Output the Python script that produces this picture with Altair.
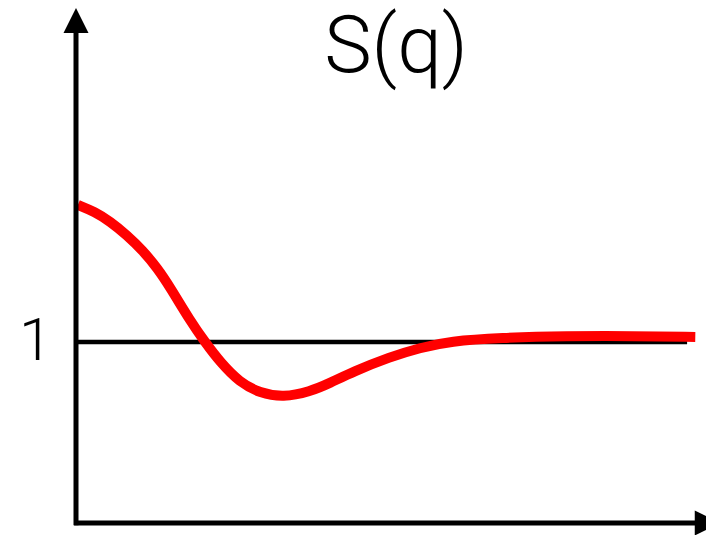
import altair as alt
import pandas as pd

# Structure factor S(q): sampled points along the curve
q_vals = [0.03, 0.30, 0.54, 0.81, 1.06, 1.29, 1.49, 1.81, 2.05, 2.29, 2.60, 2.92, 3.29,
          3.71, 4.03, 4.40, 4.98, 5.46, 5.94, 6.73, 7.79, 8.84, 9.83]
s_vals = [1.757, 1.719, 1.666, 1.590, 1.505, 1.408, 1.304, 1.118, 0.998, 0.888, 0.776, 0.718, 0.694,
          0.725, 0.773, 0.836, 0.917, 0.968, 1.004, 1.023, 1.033, 1.033, 1.028]

X_MAX = 10.0
Y_MAX = 2.845
FONT = "Roboto"

curve = pd.DataFrame({"q": q_vals, "S": s_vals})

xs = alt.Scale(domain=[0, X_MAX], nice=False, zero=False)
ys = alt.Scale(domain=[0, Y_MAX], nice=False, zero=False)


def xenc(field):
    return alt.X(field, type="quantitative", scale=xs, axis=None)


def yenc(field):
    return alt.Y(field, type="quantitative", scale=ys, axis=None)


# Reference level S = 1
ref = alt.Chart(pd.DataFrame({"q": [0.0], "q2": [9.70], "S": [1.0]})).mark_rule(
    color="black", strokeWidth=4.5
).encode(x=xenc("q"), x2="q2", y=yenc("S"))

ref_label = alt.Chart(pd.DataFrame({"q": [-0.64], "S": [1.0], "t": ["1"]})).mark_text(
    fontSize=60, font=FONT, fontWeight=300, color="black", align="center", baseline="middle"
).encode(x=xenc("q"), y=yenc("S"), text="t:N")

line = alt.Chart(curve).mark_line(
    color="#ff0000", strokeWidth=10, interpolate="basis", strokeCap="butt"
).encode(x=xenc("q"), y=yenc("S"))

# Axis lines
vaxis = alt.Chart(pd.DataFrame({"q": [0.0], "y1": [-0.012], "y2": [2.75]})).mark_rule(
    color="black", strokeWidth=5
).encode(x=xenc("q"), y=yenc("y1"), y2="y2")

haxis = alt.Chart(pd.DataFrame({"x1": [-0.03], "x2": [10.0], "y": [0.0]})).mark_rule(
    color="black", strokeWidth=5
).encode(x=xenc("x1"), x2="x2", y=yenc("y"))

# Arrow heads
up_head = alt.Chart(pd.DataFrame({"q": [0.0], "S": [2.776]})).mark_point(
    shape="M-1,1L1,1L0,-1Z", size=625, filled=True, color="black", opacity=1
).encode(x=xenc("q"), y=yenc("S"))

right_head = alt.Chart(pd.DataFrame({"q": [10.02], "S": [0.0]})).mark_point(
    shape="M-1,-1L1,0L-1,1Z", size=625, filled=True, color="black", opacity=1
).encode(x=xenc("q"), y=yenc("S"))

title = alt.Chart(pd.DataFrame({"q": [5.08], "S": [2.49], "t": ["S(q)"]})).mark_text(
    fontSize=80, font=FONT, fontWeight=300, color="black", baseline="alphabetic", align="center"
).encode(x=xenc("q"), y=yenc("S"), text="t:N")

chart = alt.layer(ref, line, vaxis, haxis, up_head, right_head, title, ref_label).properties(
    width=630, height=515,
    background="white",
    autosize=alt.AutoSizeParams(type="none"),
    padding={"left": 76, "top": 8, "right": 0, "bottom": 12},
).configure_view(stroke=None).configure_axis(grid=False)

chart.save("out.html", embed_options={"renderer": "svg", "actions": False})
